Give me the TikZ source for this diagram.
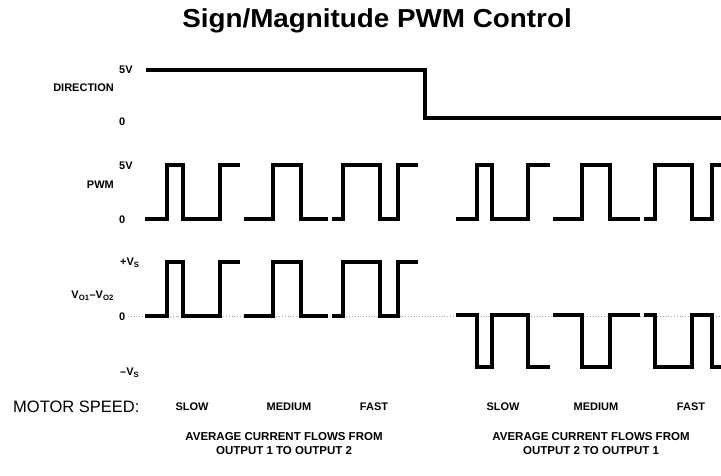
\documentclass[tikz,border=0pt]{standalone}
\usepackage{fontspec}
\setmainfont{Liberation Sans}
\begin{document}
\begin{tikzpicture}[x=1pt,y=-1pt,
  wave/.style={line width=3.2pt,line join=miter,line cap=rect},
  lbl/.style={font=\fontsize{11}{12}\selectfont\bfseries,inner sep=0pt},
  spd/.style={font=\fontsize{11}{13}\selectfont\bfseries,inner sep=0pt},
  avg/.style={font=\fontsize{11.5}{14}\selectfont\bfseries,inner sep=0pt,align=center},
]
\useasboundingbox (0,0) rectangle (721,475);
\fill[white] (0,0) rectangle (721,475);

% title
\node[font=\fontsize{26}{28}\selectfont\bfseries,inner sep=0pt] (title) at (377,21) {\scalebox{1.07}[1]{Sign/Magnitude PWM Control}};

% DIRECTION
\node[lbl,anchor=west] (d5) at (119,70) {5V};
\node[lbl,anchor=east] (dname) at (114,88) {DIRECTION};
\node[lbl,anchor=west] (d0) at (119,122) {0};
\draw[wave] (148,70) -- (425,70) -- (425,118) -- (721,118);

% PWM
\node[lbl,anchor=west] (p5) at (119,166) {5V};
\node[lbl,anchor=east] (pname) at (114,185) {PWM};
\node[lbl,anchor=west] (p0) at (119,220) {0};
\def\H{165}\def\L{219}
\draw[wave] (147,\L) -- (167,\L) -- (167,\H) -- (183,\H) -- (183,\L) -- (220,\L) -- (220,\H) -- (238,\H);
\draw[wave] (246,\L) -- (273,\L) -- (273,\H) -- (301,\H) -- (301,\L) -- (326,\L);
\draw[wave] (334,\L) -- (343,\L) -- (343,\H) -- (380,\H) -- (380,\L) -- (398,\L) -- (398,\H) -- (416,\H);
\draw[wave] (458,\L) -- (477,\L) -- (477,\H) -- (492,\H) -- (492,\L) -- (528,\L) -- (528,\H) -- (548,\H);
\draw[wave] (555,\L) -- (582,\L) -- (582,\H) -- (610,\H) -- (610,\L) -- (638,\L);
\draw[wave] (646,\L) -- (655,\L) -- (655,\H) -- (692,\H) -- (692,\L) -- (712,\L) -- (712,\H) -- (721,\H);

% VO1-VO2
\node[lbl,anchor=west] (vp) at (120,263) {+V\textsubscript{S}};
\node[lbl,anchor=east] (vname) at (114,296) {V\textsubscript{O1}--V\textsubscript{O2}};
\node[lbl,anchor=west] (v0) at (119,317) {0};
\node[lbl,anchor=west] (vm) at (120,373) {--V\textsubscript{S}};
\draw[gray!70,dotted,line width=0.8pt] (128,316) -- (721,316);
\def\H{262}\def\L{316}
\draw[wave] (147,\L) -- (167,\L) -- (167,\H) -- (183,\H) -- (183,\L) -- (220,\L) -- (220,\H) -- (238,\H);
\draw[wave] (246,\L) -- (273,\L) -- (273,\H) -- (301,\H) -- (301,\L) -- (326,\L);
\draw[wave] (334,\L) -- (343,\L) -- (343,\H) -- (380,\H) -- (380,\L) -- (398,\L) -- (398,\H) -- (416,\H);
\def\H{367}\def\L{315}
\draw[wave] (458,\L) -- (477,\L) -- (477,\H) -- (492,\H) -- (492,\L) -- (528,\L) -- (528,\H) -- (548,\H);
\draw[wave] (555,\L) -- (582,\L) -- (582,\H) -- (610,\H) -- (610,\L) -- (638,\L);
\draw[wave] (646,\L) -- (655,\L) -- (655,\H) -- (692,\H) -- (692,\L) -- (712,\L) -- (712,\H) -- (721,\H);

% bottom labels
\node[font=\fontsize{16.5}{18}\selectfont,inner sep=0pt,anchor=west] (ms) at (13,407) {MOTOR SPEED:};
\node[spd] (s1) at (192,407) {SLOW};
\node[spd] (m1) at (289,407) {MEDIUM};
\node[spd] (f1) at (374,407) {FAST};
\node[spd] (s2) at (503,407) {SLOW};
\node[spd] (m2) at (596,407) {MEDIUM};
\node[spd] (f2) at (691,407) {FAST};
\node[avg] (a1) at (284,444) {AVERAGE CURRENT FLOWS FROM\\OUTPUT 1 TO OUTPUT 2};
\node[avg] (a2) at (591,444) {AVERAGE CURRENT FLOWS FROM\\OUTPUT 2 TO OUTPUT 1};
\end{tikzpicture}
\end{document}
